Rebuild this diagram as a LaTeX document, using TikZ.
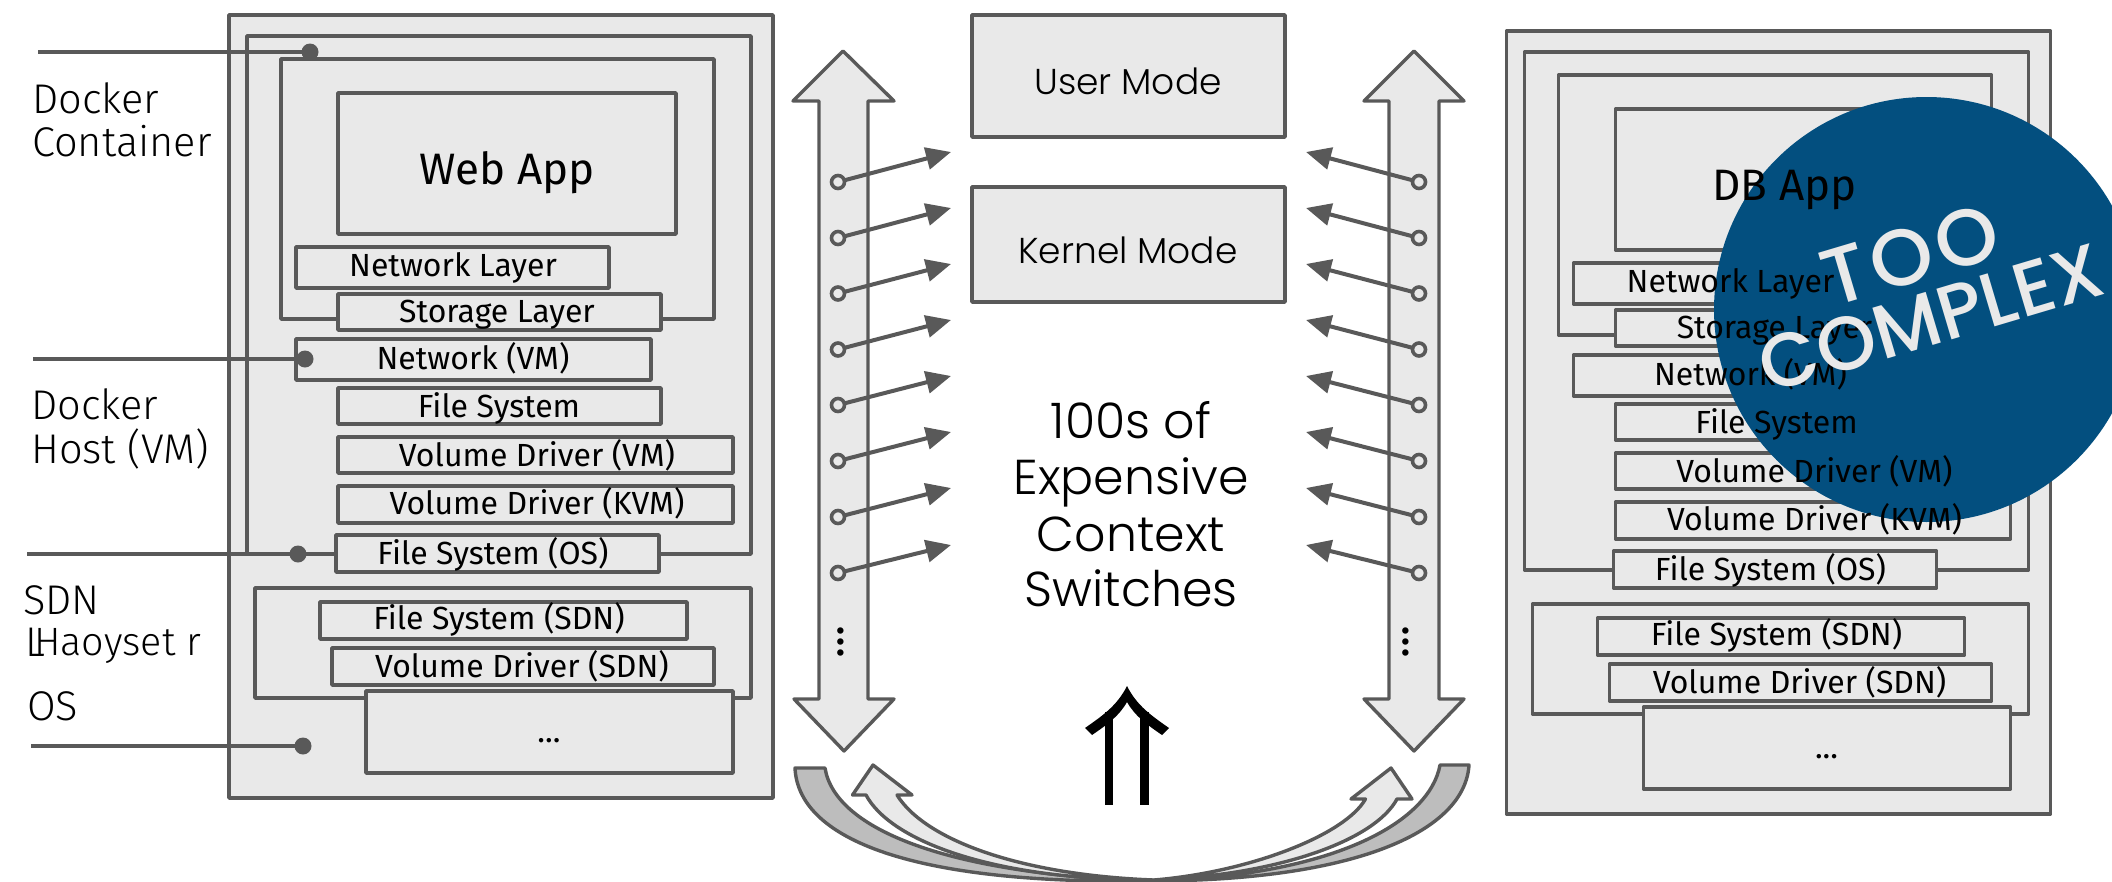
\documentclass[tikz,border=0pt]{standalone}
\usepackage{fontspec}
\usetikzlibrary{arrows.meta}
\setmainfont{Fira Sans Light}
\newfontfamily\labfont{Fira Sans Light}
\newfontfamily\boxfont{Fira Sans}
\newfontfamily\popfont{Poppins Light}
\newfontfamily\popmed{Poppins Medium}
\newfontfamily\popwide[LetterSpace=6]{Poppins Medium}
\definecolor{ln}{HTML}{595959}
\definecolor{pale}{HTML}{E9E9E9}
\definecolor{band}{HTML}{BDBDBD}
\definecolor{badge}{HTML}{034F7F}
\tikzset{
  box/.style={draw=ln,fill=pale,line width=3.6pt,inner sep=0pt,outer sep=0pt,line join=round},
  shp/.style={draw=ln,fill=pale,line width=3.4pt,line join=round},
  bandshp/.style={draw=ln,fill=band,line width=3.4pt,line join=round},
  wire/.style={draw=ln,line width=4pt},
  blob/.style={circle,fill=ln,draw=none,minimum size=17pt,inner sep=0pt,outer sep=0pt},
  ring/.style={circle,draw=ln,fill=pale,line width=3.6pt,minimum size=13pt,inner sep=0pt,outer sep=0pt},
  ptr/.style={draw=ln,line width=4pt,-{Triangle[length=25pt,width=22pt]}},
  boxtxt/.style={anchor=base,inner sep=0pt,text=black,font=\boxfont\fontsize{32}{32}\selectfont},
  sidetxt/.style={anchor=base west,inner sep=0pt,text=black,font=\labfont\fontsize{41.5}{41.5}\selectfont},
  modetxt/.style={anchor=base,inner sep=0pt,text=black,font=\popfont\fontsize{36}{36}\selectfont},
  bigtxt/.style={anchor=base,inner sep=0pt,text=black,font=\popfont\fontsize{49}{49}\selectfont},
  stamp/.style={inner sep=0pt,text=pale,rotate=16.6,font=\popmed\fontsize{76}{76}\selectfont},
  vdots/.style={inner sep=0pt,rotate=90,font=\boxfont\fontsize{46}{46}\selectfont},
}
\newcommand\bx[5]{\node[box,minimum width={(#4-#2)*1pt},minimum height={(#5-#3)*1pt}] (#1) at ({(#2+#4)/2},{(#3+#5)/2}) {};}
\newcommand\stackboxes[1]{%
  \bx{#1outer}{229}{15}{773}{798}
  \bx{#1host}{247}{36}{751}{554}
  \bx{#1cont}{281}{59}{714}{319}
  \bx{#1app}{338}{93}{676}{234}
  \bx{#1netl}{296}{247}{609}{288}
  \bx{#1stol}{338}{294}{661}{330}
  \bx{#1netv}{296}{339}{651}{380}
  \bx{#1fs}{338}{388}{661}{424}
  \bx{#1vdv}{338}{437}{733}{473}
  \bx{#1vdk}{338}{486}{733}{523}
  \bx{#1fso}{336}{535}{659}{572}
  \bx{#1sdn}{255}{588}{751}{698}
  \bx{#1fss}{320}{602}{687}{639}
  \bx{#1vds}{332}{648}{714}{685}
  \bx{#1more}{366}{691}{733}{773}
}
\newcommand\stacktext[2]{%
  \node[boxtxt,font=\boxfont\fontsize{44}{44}\selectfont] (#1tapp) at (507,184) {#2};
  \node[boxtxt] (#1tnetl) at (453,276) {Network Layer};
  \node[boxtxt] (#1tstol) at (497,322) {Storage Layer};
  \node[boxtxt] (#1tnetv) at (473,369) {Network (VM)};
  \node[boxtxt] (#1tfs) at (499,417) {File System};
  \node[boxtxt] (#1tvdv) at (537,466) {Volume Driver (VM)};
  \node[boxtxt] (#1tvdk) at (537,514) {Volume Driver (KVM)};
  \node[boxtxt] (#1tfso) at (493,564) {File System (OS)};
  \node[boxtxt] (#1tfss) at (499,629) {File System (SDN)};
  \node[boxtxt] (#1tvds) at (522,677) {Volume Driver (SDN)};
  \node[boxtxt] (#1tmore) at (549,742) {...};
}
\begin{document}
\begin{tikzpicture}[x=1pt,y=-1pt]
\useasboundingbox (0,0) rectangle (2112,881);
\clip (0,0) rectangle (2112,881);
\stackboxes{L}
\begin{scope}[xshift=1277.5pt,yshift=-16pt]
\stackboxes{R}
\end{scope}
% connector lines of the left stack
\node[blob] (d1) at (310,52) {};
\node[blob] (d2) at (305,359) {};
\node[blob] (d3) at (298,554) {};
\node[blob] (d4) at (303,746) {};
\coordinate (w1) at (38,52);
\coordinate (w2) at (33,359);
\coordinate (w3) at (27,554);
\coordinate (w4) at (31,746);
\draw[wire] (w1) -- (d1);
\draw[wire] (w2) -- (d2);
\draw[wire] (w3) -- (d3);
\draw[wire] (d3) -- (Lfso.west |- d3);
\draw[wire] (w4) -- (d4);
% mode boxes
\bx{user}{972}{15}{1285}{137}
\bx{kern}{972}{187}{1285}{302}
% double arrows
\draw[shp] (843,51) -- (894,101) -- (868,101) -- (868,699) -- (894,699) -- (844,751) -- (794,699) -- (819,699) -- (819,101) -- (793,101) -- cycle;
\draw[shp] (1414,51) -- (1464,101) -- (1439,101) -- (1439,699) -- (1464,699) -- (1414,751) -- (1364,699) -- (1389,699) -- (1389,101) -- (1364,101) -- cycle;
% small arrows
\foreach \i/\ya/\yb in {1/182/152,2/238/208,3/293.5/264,4/349.5/320,5/405/376,6/461/432,7/517/488,8/573/545}{
  \node[ring] (la\i) at (838,\ya) {};
  \coordinate (lb\i) at (951,\yb);
  \draw[ptr] (la\i) -- (lb\i);
  \node[ring] (ra\i) at (1419,\ya) {};
  \coordinate (rb\i) at (1306,\yb);
  \draw[ptr] (ra\i) -- (rb\i);
}
% vertical dots
\node[vdots] (vl) at (841,642) {...};
\node[vdots] (vr) at (1406,642) {...};
% big up arrow
\fill[black] (1104.7,805) rectangle (1113.3,712);
\fill[black] (1140.3,805) rectangle (1148.9,712);
\fill[black] (1127,686) .. controls (1137,706) and (1152,716) .. (1169,728) -- (1162,735) .. controls (1146,724) and (1135,716) .. (1127,702) .. controls (1119,716) and (1108,724) .. (1092,735) -- (1085,728) .. controls (1102,716) and (1117,706) .. (1127,686) -- cycle;
% curved bands
\draw[bandshp] (795,768) -- (825,768) .. controls (835,830) and (950,875) .. (1154,881) .. controls (900,885) and (798,835) .. (795,768) -- cycle;
\draw[shp] (873,765) -- (912,795) -- (897,795) .. controls (925,840) and (1020,875) .. (1154,880) .. controls (990,880) and (890,840) .. (866,795) -- (852.5,795) -- cycle;
\draw[bandshp] (1469,765) -- (1440,765) .. controls (1430,820) and (1340,875) .. (1154,881) .. controls (1360,880) and (1465,830) .. (1469,765) -- cycle;
\draw[shp] (1391,768) -- (1412,799) -- (1397,799) .. controls (1375,840) and (1280,875) .. (1154,880) .. controls (1250,872) and (1345,835) .. (1365.5,799) -- (1351,799) -- cycle;
% badge
\node[circle,fill=badge,draw=none,minimum size=425pt,inner sep=0pt] (badge) at (1926.5,309.5) {};
% texts
\stacktext{L}{Web App}
\begin{scope}[xshift=1277.5pt,yshift=-16pt]
\stacktext{R}{DB App}
\end{scope}
\node[stamp,font=\popwide\fontsize{80}{80}\selectfont] (too) at (1910,255) {TOO};
\node[stamp] (cpx) at (1931,318) {COMPLEX};
\node[modetxt] (tuser) at (1128,94) {User Mode};
\node[modetxt] (tkern) at (1128,263) {Kernel Mode};
\node[bigtxt] (b1) at (1131,438.5) {100s of};
\node[bigtxt] (b2) at (1131,494.5) {Expensive};
\node[bigtxt] (b3) at (1131,551.5) {Context};
\node[bigtxt] (b4) at (1131,606.5) {Switches};
\node[sidetxt] (s1) at (32,113.5) {Docker};
\node[sidetxt] (s2) at (32,156.5) {Container};
\node[sidetxt] (s3) at (31,419.5) {Docker};
\node[sidetxt] (s4) at (31,463.5) {Host (VM)};
\node[sidetxt] (s5) at (23,614.5) {SDN};
\node[sidetxt] (s6) at (25,656) {L};
\node[sidetxt,font=\labfont\fontsize{39.5}{39.5}\selectfont] (s7) at (34,655) {Haoyset r};
\node[sidetxt] (s8) at (27,720.5) {OS};
\end{tikzpicture}
\end{document}
